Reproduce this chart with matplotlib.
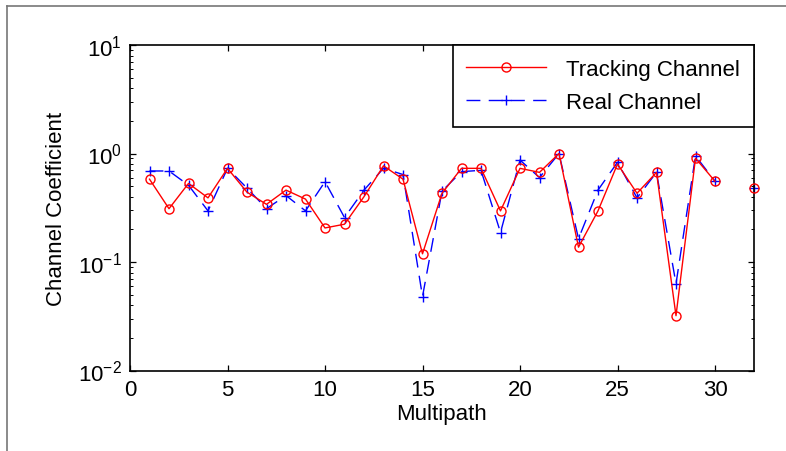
import numpy as np
import matplotlib
matplotlib.use("Agg")
import matplotlib.pyplot as plt
from matplotlib.lines import Line2D
from matplotlib.ticker import LogLocator, FixedLocator

plt.rcParams['font.family'] = ['Liberation Sans', 'DejaVu Sans']
plt.rcParams['mathtext.fontset'] = 'custom'
plt.rcParams['mathtext.rm'] = 'Liberation Sans'
plt.rcParams['mathtext.it'] = 'Liberation Sans:italic'

multipath = [1, 2, 3, 4, 5, 6, 7, 8, 9, 10, 11, 12, 13, 14, 15, 16,
             17, 18, 19, 20, 21, 22, 23, 24, 25, 26, 27, 28, 29, 30, 31, 32]
tracking = [0.58, 0.31, 0.53, 0.39, 0.73, 0.44, 0.34, 0.46, 0.38, 0.206,
            0.223, 0.40, 0.77, 0.58, 0.119, 0.43, 0.73, 0.73, 0.296, 0.73,
            0.67, 1.0, 0.137, 0.296, 0.80, 0.43, 0.67, 0.032, 0.905, 0.555,
            np.nan, 0.48]
real = [0.69, 0.69, 0.51, 0.296, 0.73, 0.48, 0.31, 0.41, 0.296, 0.55,
        0.257, 0.46, 0.73, 0.64, 0.048, 0.45, 0.68, 0.70, 0.187, 0.87,
        0.60, 1.0, 0.164, 0.46, 0.83, 0.39, 0.67, 0.063, 0.95, 0.555,
        np.nan, 0.48]
xticks = [0, 5, 10, 15, 20, 25, 30]

FS = 16

fig = plt.figure(figsize=(7.86, 4.52), dpi=100)
ax = fig.add_axes([130/786, 1-371.5/452, (754-130)/786, (371.5-46)/452])

ax.plot(multipath, tracking, color='red', lw=1.0, marker='o', ms=6.5,
        mfc='none', mec='red', mew=1.0, label='Tracking Channel', clip_on=False, zorder=3)
ax.plot(multipath, real, color='blue', lw=1.0, marker='+', ms=7,
        mew=1.0, dashes=(10, 6), label='Real Channel', clip_on=False, zorder=2)

ax.set_yscale('log')
ax.set_xlim(0, 32)
ax.set_ylim(1e-2, 1e1)
ax.xaxis.set_major_locator(FixedLocator(xticks))
ax.yaxis.set_major_locator(LogLocator(base=10, numticks=10))
ax.yaxis.set_minor_locator(LogLocator(base=10, subs=np.arange(2, 10), numticks=20))
ax.tick_params(which='both', direction='in', top=True, right=True, labelsize=FS, pad=6)
ax.tick_params(which='major', length=4.5, width=0.9)
ax.tick_params(which='minor', length=2.5, width=0.7)
ax.tick_params(axis='x', which='minor', top=False, bottom=False)
for s in ax.spines.values():
    s.set_linewidth(1.2)

ax.set_xlabel('Multipath', fontsize=FS, labelpad=2)
ax.set_ylabel('Channel Coefficient', fontsize=FS, labelpad=8)

leg = ax.legend(loc='upper right', fontsize=FS, handlelength=3.6, fancybox=False,
                framealpha=1, edgecolor='black', borderaxespad=0, borderpad=0.62,
                labelspacing=0.55, handletextpad=0.9)
leg.get_frame().set_linewidth(1.2)

fig.add_artist(Line2D([7/786, 1], [1-7/452, 1-7/452], transform=fig.transFigure,
                      color='#777777', lw=1.2))
fig.add_artist(Line2D([7/786, 7/786], [0, 1-7/452], transform=fig.transFigure,
                      color='#777777', lw=1.2))

fig.savefig('out.png', dpi=100)
